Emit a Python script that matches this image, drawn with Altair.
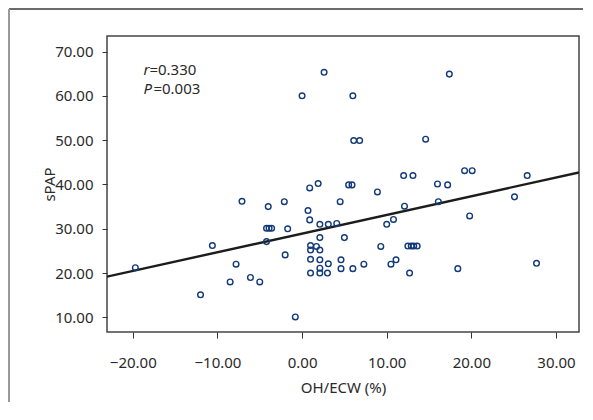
import altair as alt
import pandas as pd

# Scatter data (OH/ECW %, sPAP)
ohecw = [-19.7, -12.0, -10.6, -8.5, -7.8, -7.1, -6.1, -5.0, -4.2, -4.0,
         -4.2, -3.9, -3.6, -2.1, -2.0, -1.7, -0.8, 0.0, 0.7, 0.9,
         0.9, 1.0, 1.0, 1.0, 1.0, 1.7, 1.9, 2.1, 2.1, 2.1,
         2.1, 2.1, 2.1, 2.6, 3.1, 3.1, 3.0, 4.1, 4.5, 4.6,
         4.6, 5.0, 5.5, 5.9, 6.0, 6.0, 6.1, 6.8, 7.3, 8.9,
         9.3, 10.0, 10.5, 10.8, 11.1, 12.0, 12.1, 12.5, 12.7, 12.9,
         13.1, 13.2, 13.6, 14.6, 16.0, 16.1, 17.2, 17.4, 18.4, 19.2,
         19.8, 20.1, 25.1, 26.6, 27.7]
spap = [21.2, 15.1, 26.2, 18.0, 22.0, 36.2, 19.0, 18.0, 27.1, 35.0,
        30.1, 30.1, 30.1, 36.1, 24.1, 30.0, 10.1, 60.0, 34.1, 39.2,
        32.0, 26.2, 25.2, 23.1, 20.0, 26.0, 40.2, 31.0, 28.0, 25.2,
        23.0, 21.1, 20.0, 65.3, 31.0, 22.1, 20.0, 31.2, 36.1, 23.0,
        21.0, 28.0, 39.9, 39.9, 60.0, 21.0, 49.9, 49.9, 22.0, 38.3,
        26.0, 31.0, 22.0, 32.1, 23.0, 42.0, 35.1, 26.1, 20.0, 26.1,
        42.0, 26.1, 26.1, 50.2, 40.1, 36.1, 39.9, 64.9, 21.0, 43.1,
        32.9, 43.1, 37.2, 42.0, 22.2]

# Fitted line endpoints
fit_x = [-23.05, 32.72]
fit_y = [19.2, 42.7]

# Axis ticks
x_ticks = [-20, -10, 0, 10, 20, 30]
y_ticks = [10, 20, 30, 40, 50, 60, 70]

# Annotation
ann_sym = ["r", "P"]
ann_val = ["=0.330", "=0.003"]
ann_x = [-18.75, -18.75]
ann_y = [64.6, 60.5]

FONT = "Noto Sans"
FS = 15
TXT = "#2a2a2a"

pts = pd.DataFrame({"x": ohecw, "y": spap})
fit = pd.DataFrame({"x": fit_x, "y": fit_y})
ann = pd.DataFrame({"sym": ann_sym, "val": ann_val, "x": ann_x, "y": ann_y})

xs = alt.Scale(domain=[-23.05, 32.72], nice=False, zero=False)
ys = alt.Scale(domain=[6.7, 73.5], nice=False, zero=False)

xax = alt.Axis(values=x_ticks, format=".2f", title="OH/ECW (%)", grid=False, domain=False,
               tickSize=6, tickColor="#333", labelPadding=17, titlePadding=10,
               labelFont=FONT, titleFont=FONT, labelFontSize=FS, titleFontSize=FS,
               labelColor=TXT, titleColor=TXT, titleFontWeight="normal")
yax = alt.Axis(values=y_ticks, format=".2f", title="sPAP", grid=False, domain=False,
               tickSize=5, tickColor="#333", labelPadding=9, titlePadding=-3,
               labelFont=FONT, titleFont=FONT, labelFontSize=FS, titleFontSize=FS,
               labelColor=TXT, titleColor=TXT, titleFontWeight="normal")

points = alt.Chart(pts).mark_point(shape="circle", filled=False, size=32,
                                   strokeWidth=1.4, color="#123a78", opacity=1).encode(
    x=alt.X("x:Q", scale=xs, axis=xax),
    y=alt.Y("y:Q", scale=ys, axis=yax),
)

line = alt.Chart(fit).mark_line(color="#1c1c1c", strokeWidth=2.4, clip=True).encode(
    x=alt.X("x:Q", scale=xs),
    y=alt.Y("y:Q", scale=ys),
)

sym = alt.Chart(ann).mark_text(font=FONT, fontSize=FS, fontStyle="italic", align="left",
                               baseline="alphabetic", color=TXT).encode(
    x=alt.X("x:Q", scale=xs), y=alt.Y("y:Q", scale=ys), text="sym:N")

val1 = alt.Chart(ann.iloc[[0]]).mark_text(font=FONT, fontSize=FS, align="left",
                                          baseline="alphabetic", color=TXT, dx=6).encode(
    x=alt.X("x:Q", scale=xs), y=alt.Y("y:Q", scale=ys), text="val:N")
val2 = alt.Chart(ann.iloc[[1]]).mark_text(font=FONT, fontSize=FS, align="left",
                                          baseline="alphabetic", color=TXT, dx=10).encode(
    x=alt.X("x:Q", scale=xs), y=alt.Y("y:Q", scale=ys), text="val:N")

one = alt.Data(values=[{"a": 1}])
frame_top = alt.Chart(one).mark_rule(color="#3a3a3a", strokeWidth=1.5).encode(
    x=alt.value(-98), x2=alt.value(600), y=alt.value(-27))
frame_left = alt.Chart(one).mark_rule(color="#9a9a9a", strokeWidth=2).encode(
    x=alt.value(-98), y=alt.value(-27), y2=alt.value(420))

chart = alt.layer(frame_top, frame_left, line, points, sym, val1, val2).properties(
    width=472, height=296,
    autosize=alt.AutoSizeParams(type="none"),
    padding={"left": 99, "top": 28, "right": 4, "bottom": 70},
).configure_view(stroke="#444", strokeWidth=1.5)

chart.save("out.html", embed_options={"renderer": "svg", "actions": False})
